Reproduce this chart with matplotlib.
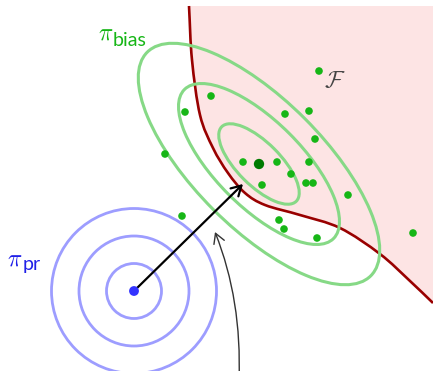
import numpy as np
import matplotlib
matplotlib.use("Agg")
import matplotlib.pyplot as plt
from matplotlib.patches import Ellipse, Circle, PathPatch, FancyArrowPatch
from matplotlib.path import Path

plt.rcParams["mathtext.fontset"] = "cm"

# feasible-set boundary knots (canvas units, y grows downward)
boundary_x = [189, 192, 200, 213, 228, 245, 265, 300, 340, 380, 410, 433]
boundary_y = [6, 60, 115, 148, 173, 193, 205, 215, 228, 254, 281, 303]

# biased policy: mean, std along principal axes, contour levels
bias_mean = (259, 164)
bias_sigma = (52.7, 21.5)
bias_angle = 45
bias_levels = [1, 2, 3]

# prior policy: mean and contour radii
prior_mean = (134, 291)
prior_radii = [27.5, 55, 82.5]

# samples drawn from the biased policy
sample_x = [211, 185, 165, 319, 285, 309, 315, 243, 277, 309, 291, 262, 306, 313, 348, 182, 279, 284, 317, 413]
sample_y = [96, 112, 154, 71, 114, 111, 139, 162, 162, 162, 174, 185, 183, 183, 195, 216, 220, 229, 238, 233]

W, H = 433, 371
fig = plt.figure(figsize=(W / 100, H / 100), dpi=100)
ax = fig.add_axes([0, 0, 1, 1])
ax.set_xlim(0, W)
ax.set_ylim(H, 0)
ax.axis("off")


def smooth_path(xs, ys):
    pts = np.column_stack([xs, ys]).astype(float)
    ext = np.vstack([pts[0] - (pts[1] - pts[0]), pts, pts[-1] + (pts[-1] - pts[-2])])
    verts = [tuple(pts[0])]
    codes = [Path.MOVETO]
    for i in range(1, len(ext) - 2):
        p0, p1, p2, p3 = ext[i - 1], ext[i], ext[i + 1], ext[i + 2]
        c1 = p1 + (p2 - p0) / 6
        c2 = p2 - (p3 - p1) / 6
        verts += [tuple(c1), tuple(c2), tuple(p2)]
        codes += [Path.CURVE4] * 3
    return verts, codes


verts, codes = smooth_path(boundary_x, boundary_y)
fill_verts = verts + [(W, boundary_y[0]), (boundary_x[0], boundary_y[0]), (0, 0)]
fill_codes = codes + [Path.LINETO, Path.LINETO, Path.CLOSEPOLY]
ax.add_patch(PathPatch(Path(fill_verts, fill_codes), facecolor="#fde4e4", edgecolor="none", zorder=1))
ax.add_patch(PathPatch(Path(verts, codes), facecolor="none", edgecolor="#990000", lw=1.9, zorder=2))

for k in bias_levels:
    ax.add_patch(Ellipse(bias_mean, 2 * k * bias_sigma[0], 2 * k * bias_sigma[1], angle=bias_angle,
                         facecolor="none", edgecolor="#86d986", lw=2.2, zorder=3))

for r in prior_radii:
    ax.add_patch(Circle(prior_mean, r, facecolor="none", edgecolor="#9d9dff", lw=2.0, zorder=3))

ax.add_patch(FancyArrowPatch(prior_mean, (243, 184), arrowstyle="->,head_length=7,head_width=4",
                             mutation_scale=1, color="black", lw=1.6, shrinkA=0, shrinkB=0, zorder=5))
curve = Path([(239, 380), (242, 300), (215, 232)], [Path.MOVETO, Path.CURVE3, Path.CURVE3])
ax.add_patch(FancyArrowPatch(path=curve, arrowstyle="->,head_length=7,head_width=4",
                             mutation_scale=1, color="#333333", lw=1.0, zorder=5))

ax.scatter(sample_x, sample_y, s=30, color="#16b616", edgecolors="none", zorder=6)
ax.scatter([bias_mean[0]], [bias_mean[1]], s=55, color="#007a00", edgecolors="none", zorder=6)
ax.scatter([prior_mean[0]], [prior_mean[1]], s=50, color="#3333ff", edgecolors="none", zorder=6)

ax.text(98, 40, r"$\pi$", fontsize=17, color="#16b616", ha="left", va="baseline")
ax.text(113, 46, "bias", fontsize=14, family="Lato", color="#16b616", ha="left", va="baseline")
ax.text(7, 266, r"$\pi$", fontsize=17, color="#2020e8", ha="left", va="baseline")
ax.text(23, 270, "pr", fontsize=14, family="Lato", color="#2020e8", ha="left", va="baseline")
ax.text(324, 87, r"$\mathcal{F}$", fontsize=17, color="#444444", ha="left", va="baseline")

fig.savefig("out.png", dpi=100)
